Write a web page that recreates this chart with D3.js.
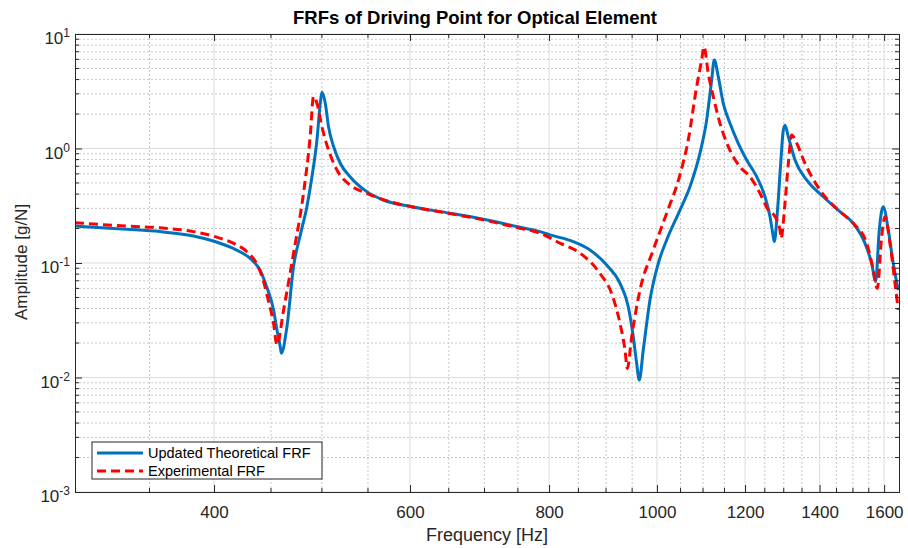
<!DOCTYPE html>
<html>
<head>
<meta charset="utf-8">
<script src="https://cdn.jsdelivr.net/npm/d3@7"></script>
<style>
  body { margin: 0; background: #fff; }
  text { font-family: Arial, "Liberation Sans", Helvetica, sans-serif; }
</style>
</head>
<body>
<div id="chart"></div>
<script>
// frequency / amplitude
var theoFreq = [300, 311.6, 333.9, 357.7, 383.2, 400.7, 416.2, 430.8, 439.8, 446.0, 452.4, 455.6, 458.7, 459.7,
  465.1, 471.5, 478.1, 484.7, 489.8, 494.9, 498.3, 500.0, 503.5, 506.9, 512.2, 519.3, 530.0, 548.6, 567.7,
  602.1, 651.9, 698.2, 748.1, 785.1, 801.5, 841.1, 870.6, 901.2, 926.4, 942.4, 952.2, 958.9, 964.1, 972.1,
  985.7, 1002.7, 1020.3, 1048.8, 1070.7, 1093.1, 1108.3, 1119.9, 1125.9, 1135.3, 1147.1, 1163.1, 1183.2,
  1204.0, 1229.2, 1250.5, 1263.5, 1270.6, 1274.8, 1282.7, 1291.8, 1298.8, 1303.3, 1312.3, 1330.6, 1363.1,
  1410.7, 1460.3, 1501.1, 1537.8, 1559.3, 1572.2, 1584.0, 1597.1, 1613.8, 1630.5, 1647.5];
var theoAmp = [0.210, 0.205, 0.197, 0.188, 0.172, 0.154, 0.134, 0.110, 0.087, 0.062, 0.039, 0.026, 0.0186, 0.0163,
  0.0278, 0.093, 0.175, 0.31, 0.567, 1.19, 2.48, 3.10, 2.48, 1.55, 1.04, 0.743, 0.567, 0.420, 0.355,
  0.310, 0.272, 0.241, 0.208, 0.188, 0.176, 0.154, 0.130, 0.096, 0.0665, 0.0415, 0.0227, 0.0133, 0.0095, 0.0174,
  0.0475, 0.099, 0.159, 0.290, 0.464, 0.91, 1.77, 3.97, 5.93, 4.24, 2.48, 1.66, 1.11,
  0.794, 0.567, 0.379, 0.254, 0.182, 0.154, 0.272, 0.743, 1.45, 1.60, 1.27, 0.794, 0.531,
  0.379, 0.281, 0.222, 0.149, 0.099, 0.069, 0.194, 0.310, 0.194, 0.099, 0.058];

var expFreq = [300, 311.6, 333.9, 357.7, 383.2, 400.7, 416.2, 427.9, 436.8, 442.8, 447.4, 452.4, 455.6, 461.9,
  471.5, 481.3, 488.0, 491.4, 494.9, 500.0, 506.9, 515.8, 530.0, 548.6, 575.6, 602.1, 651.9, 698.2, 748.1,
  785.1, 818.2, 852.8, 888.8, 910.6, 926.4, 936.0, 940.5, 949.1, 965.5, 992.4, 1020.3, 1048.8, 1067.0,
  1085.6, 1096.9, 1102.2, 1112.0, 1123.6, 1139.3, 1159.0, 1187.4, 1212.3, 1237.6, 1259.1, 1276.7, 1289.9,
  1292.6, 1303.3, 1312.3, 1321.5, 1335.3, 1358.3, 1401.1, 1460.3, 1501.1, 1543.2, 1564.5, 1577.5, 1591.9,
  1602.8, 1619.4, 1636.4, 1647.5];
var expAmp = [0.225, 0.219, 0.210, 0.203, 0.188, 0.170, 0.149, 0.126, 0.099, 0.071, 0.0475, 0.0297, 0.0192, 0.0389,
  0.122, 0.406, 1.27, 2.84, 2.48, 1.55, 0.970, 0.649, 0.480, 0.406, 0.343, 0.310, 0.270, 0.238, 0.204,
  0.182, 0.149, 0.122, 0.081, 0.054, 0.0297, 0.0174, 0.0120, 0.0227, 0.058, 0.130, 0.272, 0.59, 1.19,
  3.47, 5.93, 7.74, 4.54, 2.84, 1.66, 1.04, 0.693, 0.567, 0.406, 0.290, 0.254, 0.194,
  0.164, 0.332, 0.743, 1.31, 1.11, 0.743, 0.434, 0.281, 0.222, 0.149, 0.087, 0.060, 0.170,
  0.254, 0.149, 0.0665, 0.039];

var xMajor = [400, 600, 800, 1000, 1200, 1400, 1600];
var xMinor = [350, 450, 500, 550, 650, 700, 750, 850, 900, 950, 1050, 1100, 1150, 1250, 1300, 1350, 1450, 1500, 1550];
var yExponents = [-3, -2, -1, 0, 1];
var seriesNames = ["Updated Theoretical FRF", "Experimental FRF"];

var W = 908, H = 548;
var margin = {t: 34, r: 9, b: 56, l: 75};
var axisCol = "#262626";

var svg = d3.select("#chart").append("svg")
  .attr("width", W)
  .attr("height", H);

var x = d3.scaleLog().domain([300, 1650]).range([margin.l, W - margin.r]);
var y = d3.scaleLog().domain([1e-3, 1e1]).range([H - margin.b, margin.t]);

var x0 = margin.l, x1 = W - margin.r, y0 = H - margin.b, y1 = margin.t;

// minor y ticks 2..9 in every decade
var yMinor = [];
yExponents.slice(0, -1).forEach(function(e) {
  for (var k = 2; k <= 9; k++) yMinor.push(k * Math.pow(10, e));
});
var yMajor = yExponents.map(function(e) { return Math.pow(10, e); });

var grid = svg.append("g");
// minor grid, dotted
grid.selectAll(".gx").data(xMinor).enter().append("line")
  .attr("x1", d => x(d)).attr("x2", d => x(d)).attr("y1", y0).attr("y2", y1)
  .attr("stroke", "#c8c8c8").attr("stroke-width", 1).attr("stroke-dasharray", "2,2");
grid.selectAll(".gy").data(yMinor).enter().append("line")
  .attr("x1", x0).attr("x2", x1).attr("y1", d => y(d)).attr("y2", d => y(d))
  .attr("stroke", "#c8c8c8").attr("stroke-width", 1).attr("stroke-dasharray", "2,2");
// major grid, solid
grid.selectAll(".Gx").data(xMajor).enter().append("line")
  .attr("x1", d => x(d)).attr("x2", d => x(d)).attr("y1", y0).attr("y2", y1)
  .attr("stroke", "#dcdcdc").attr("stroke-width", 1);
grid.selectAll(".Gy").data(yMajor).enter().append("line")
  .attr("x1", x0).attr("x2", x1).attr("y1", d => y(d)).attr("y2", d => y(d))
  .attr("stroke", "#dcdcdc").attr("stroke-width", 1);

// curves
svg.append("clipPath").attr("id", "clip").append("rect")
  .attr("x", x0).attr("y", y1).attr("width", x1 - x0).attr("height", y0 - y1);

var line = d3.line()
  .x(d => x(d[0]))
  .y(d => y(d[1]))
  .curve(d3.curveMonotoneX);

var theo = theoFreq.map((f, i) => [f, theoAmp[i]]);
var expt = expFreq.map((f, i) => [f, expAmp[i]]);

var plot = svg.append("g").attr("clip-path", "url(#clip)");
plot.append("path").datum(theo).attr("d", line)
  .attr("fill", "none").attr("stroke", "#0072BD").attr("stroke-width", 3).attr("stroke-linejoin", "round");
plot.append("path").datum(expt).attr("d", line)
  .attr("fill", "none").attr("stroke", "#FF0000").attr("stroke-width", 3).attr("stroke-dasharray", "9,5");

// axes (box on, ticks inside on all sides)
var xAxB = d3.axisBottom(x).tickValues(xMajor).tickSize(-7).tickFormat(d3.format("d")).tickPadding(14);
var xAxT = d3.axisTop(x).tickValues(xMajor).tickSize(-7).tickFormat("");
var yAxL = d3.axisLeft(y).tickValues(yMajor).tickSize(-7).tickFormat("");
var yAxR = d3.axisRight(y).tickValues(yMajor).tickSize(-7).tickFormat("");

function styleAxis(g) {
  g.select(".domain").attr("stroke", axisCol).attr("stroke-width", 1);
  g.selectAll(".tick line").attr("stroke", axisCol);
  g.selectAll("text").attr("fill", axisCol).attr("font-size", "17px")
    .attr("font-family", 'Arial, "Liberation Sans", sans-serif');
}

svg.append("g").attr("transform", "translate(0," + y0 + ")").call(xAxB).call(styleAxis);
svg.append("g").attr("transform", "translate(0," + y1 + ")").call(xAxT).call(styleAxis);
svg.append("g").attr("transform", "translate(" + x0 + ",0)").call(yAxL).call(styleAxis);
svg.append("g").attr("transform", "translate(" + x1 + ",0)").call(yAxR).call(styleAxis);

// minor ticks
var mt = svg.append("g").attr("stroke", axisCol).attr("stroke-width", 1);
xMinor.forEach(function(f) {
  mt.append("line").attr("x1", x(f)).attr("x2", x(f)).attr("y1", y0).attr("y2", y0 - 4);
  mt.append("line").attr("x1", x(f)).attr("x2", x(f)).attr("y1", y1).attr("y2", y1 + 4);
});
yMinor.forEach(function(v) {
  mt.append("line").attr("x1", x0).attr("x2", x0 + 4).attr("y1", y(v)).attr("y2", y(v));
  mt.append("line").attr("x1", x1).attr("x2", x1 - 4).attr("y1", y(v)).attr("y2", y(v));
});

// y tick labels as 10^n
var yl = svg.append("g");
yExponents.forEach(function(e) {
  var t = yl.append("text")
    .attr("x", x0 - 5)
    .attr("y", y(Math.pow(10, e)) + 10)
    .attr("text-anchor", "end")
    .attr("fill", axisCol)
    .attr("font-size", "17px");
  t.append("tspan").text("10");
  t.append("tspan").attr("dy", -7).attr("font-size", "12px").text(e);
});

// title and labels
svg.append("text")
  .attr("x", 475).attr("y", 24)
  .attr("text-anchor", "middle")
  .attr("font-size", "18.5px").attr("font-weight", "bold").attr("fill", "#000")
  .text("FRFs of Driving Point for Optical Element");

svg.append("text")
  .attr("x", (x0 + x1) / 2).attr("y", 541)
  .attr("text-anchor", "middle")
  .attr("font-size", "18px").attr("fill", axisCol)
  .text("Frequency [Hz]");

svg.append("text")
  .attr("transform", "translate(27," + 262 + ") rotate(-90)")
  .attr("text-anchor", "middle")
  .attr("font-size", "17px").attr("fill", axisCol)
  .text("Amplitude [g/N]");

// legend
var lg = svg.append("g").attr("transform", "translate(92,442)");
lg.append("rect").attr("width", 230).attr("height", 37)
  .attr("fill", "#fff").attr("stroke", axisCol).attr("stroke-width", 1);
var styles = [{c: "#0072BD", dash: null}, {c: "#FF0000", dash: "9,5"}];
seriesNames.forEach(function(name, i) {
  var yy = 11 + i * 18;
  lg.append("line").attr("x1", 5).attr("x2", 51).attr("y1", yy).attr("y2", yy)
    .attr("stroke", styles[i].c).attr("stroke-width", 3)
    .attr("stroke-dasharray", styles[i].dash);
  lg.append("text").attr("x", 56).attr("y", yy + 5)
    .attr("font-size", "14.5px").attr("fill", "#000")
    .text(name);
});
</script>
</body>
</html>
